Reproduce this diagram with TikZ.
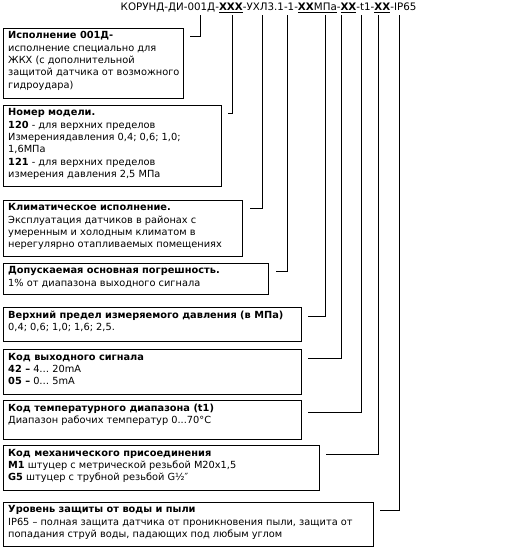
\documentclass[tikz,border=0pt]{standalone}
\usepackage{fontspec}
\setmainfont{DejaVu Sans}
\newcommand\fs{\fontsize{9.8}{12.3}\selectfont}
\newcommand\hs{\fontsize{10.3}{11}\selectfont}
\tikzset{
  box/.style={draw, line width=0.9pt, anchor=north west, inner sep=0pt},
  txt/.style={anchor=north west, inner sep=0pt, align=left, font=\fs},
  conn/.style={line width=0.9pt},
}
\begin{document}
\begin{tikzpicture}[x=1pt,y=-1pt]
\useasboundingbox (0,0) rectangle (509,549);
\node[anchor=base west, inner sep=0, font=\hs] (hdr) at (120.5,10.5)
  {КОРУНД-ДИ-001Д-\underline{\textbf{XXX}}-УХЛ3.1-1-\underline{\textbf{XX}МПа}-\underline{\textbf{XX}}-t1-\underline{\textbf{XX}}-IP65};

\node[box, minimum width=180pt, minimum height=70pt] (b1) at (2.5,27.5) {};
\node[box, minimum width=218pt, minimum height=81.5pt] (b2) at (2.5,104.5) {};
\node[box, minimum width=239.5pt, minimum height=56.5pt] (b3) at (2.5,199.5) {};
\node[box, minimum width=265.5pt, minimum height=31.5pt] (b4) at (2.5,262.5) {};
\node[box, minimum width=298pt, minimum height=34pt] (b5) at (2.5,307) {};
\node[box, minimum width=298pt, minimum height=44.5pt] (b6) at (2.5,349) {};
\node[box, minimum width=298pt, minimum height=39pt] (b7) at (2.5,399.5) {};
\node[box, minimum width=316pt, minimum height=44.5pt] (b8) at (2.5,445) {};
\node[box, minimum width=370pt, minimum height=44pt] (b9) at (2.5,501.5) {};

\node[txt] (t1) at ([shift={(5.5,4)}]b1.north west)
  {\textbf{Исполнение 001Д-}\\исполнение специально для\\ЖКХ (с дополнительной\\защитой датчика от возможного\\гидроудара)};
\node[txt] (t2) at ([shift={(5.5,4)}]b2.north west)
  {\textbf{Номер модели.}\\\textbf{120} - для верхних пределов\\Измерениядавления 0,4; 0,6; 1,0;\\1,6МПа\\\textbf{121} - для верхних пределов\\измерения давления 2,5 МПа};
\node[txt] (t3) at ([shift={(5.5,4)}]b3.north west)
  {\textbf{Климатическое исполнение.}\\Эксплуатация датчиков в районах с\\умеренным и холодным климатом в\\нерегулярно отапливаемых помещениях};
\node[txt] (t4) at ([shift={(5.5,4)}]b4.north west)
  {\textbf{Допускаемая основная погрешность.}\\1\% от диапазона выходного сигнала};
\node[txt] (t5) at ([shift={(5.5,4)}]b5.north west)
  {\textbf{Верхний предел измеряемого давления (в МПа)}\\0,4; 0,6; 1,0; 1,6; 2,5.};
\node[txt] (t6) at ([shift={(5.5,4)}]b6.north west)
  {\textbf{Код выходного сигнала}\\\textbf{42 –} 4… 20mA\\\textbf{05 –} 0… 5mA};
\node[txt] (t7) at ([shift={(5.5,4)}]b7.north west)
  {\textbf{Код температурного диапазона (t1)}\\Диапазон рабочих температур 0...70°C};
\node[txt] (t8) at ([shift={(5.5,4)}]b8.north west)
  {\textbf{Код механического присоединения}\\\textbf{M1} штуцер с метрической резьбой M20x1,5\\\textbf{G5} штуцер с трубной резьбой G½″};
\node[txt] (t9) at ([shift={(5.5,4)}]b9.north west)
  {\textbf{Уровень защиты от воды и пыли}\\IP65 – полная защита датчика от проникновения пыли, защита от\\попадания струй воды, падающих под любым углом};

\coordinate (c1) at (200,15);
\coordinate (c2) at (232,15);
\coordinate (c3) at (262,15);
\coordinate (c4) at (287,15);
\coordinate (c5) at (325,15);
\coordinate (c6) at (341.5,15);
\coordinate (c7) at (361,15);
\coordinate (c8) at (378,15);
\coordinate (c9) at (399,15);

\draw[conn] (c1) |- ([shift={(7,8.5)}]b1.north east);
\draw[conn] (c2) |- ([shift={(7,9)}]b2.north east);
\draw[conn] (c3) |- ([shift={(7,9)}]b3.north east);
\draw[conn] (c4) |- ([shift={(7,9)}]b4.north east);
\draw[conn] (c5) |- ([shift={(7,9)}]b5.north east);
\draw[conn] (c6) |- ([shift={(7,9)}]b6.north east);
\draw[conn] (c7) |- ([shift={(7,12.5)}]b7.north east);
\draw[conn] (c8) |- ([shift={(7,9)}]b8.north east);
\draw[conn] (c9) |- ([shift={(7,8.5)}]b9.north east);
\end{tikzpicture}
\end{document}
